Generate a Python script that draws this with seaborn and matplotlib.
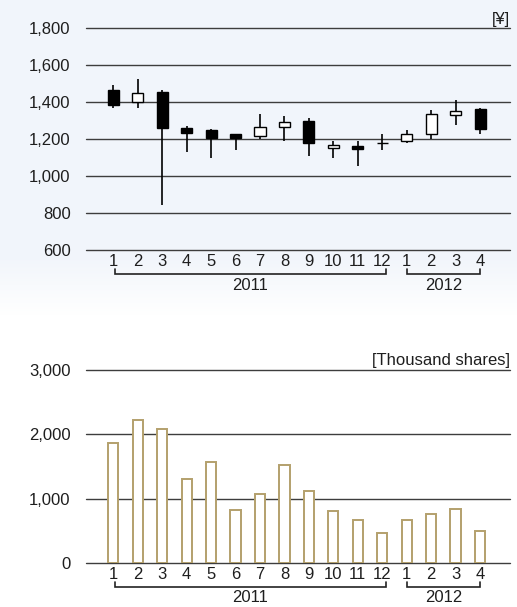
import numpy as np
import pandas as pd
import matplotlib
matplotlib.use("Agg")
import matplotlib.pyplot as plt
import matplotlib.transforms as mtransforms
import seaborn as sns

# Monthly share price (yen): open, high, low, close
periods = ["2011-01", "2011-02", "2011-03", "2011-04", "2011-05", "2011-06",
           "2011-07", "2011-08", "2011-09", "2011-10", "2011-11", "2011-12",
           "2012-01", "2012-02", "2012-03", "2012-04"]
month_labels = ["1", "2", "3", "4", "5", "6", "7", "8", "9", "10", "11", "12",
                "1", "2", "3", "4"]
price_open = [1465, 1402, 1452, 1262, 1248, 1225, 1218, 1266, 1298, 1150, 1160, 1179,
              1188, 1225, 1332, 1360]
price_high = [1490, 1522, 1465, 1272, 1252, 1228, 1333, 1325, 1315, 1190, 1188, 1229,
              1247, 1355, 1413, 1370]
price_low = [1370, 1366, 843, 1131, 1100, 1140, 1200, 1188, 1110, 1100, 1052, 1139,
             1178, 1200, 1276, 1225]
price_close = [1382, 1447, 1262, 1235, 1208, 1208, 1267, 1294, 1178, 1168, 1145, 1181,
               1225, 1333, 1353, 1253]

# Monthly trading volume (thousand shares)
volume = [1871, 2224, 2084, 1306, 1571, 829, 1068, 1519, 1124, 809, 674, 461,
          663, 762, 835, 497]

# Year groupings under the month axis: (label, first index, last index)
year_groups = [("2011", 0, 11), ("2012", 12, 15)]

price_ticks = [600, 800, 1000, 1200, 1400, 1600, 1800]
volume_ticks = [0, 1000, 2000, 3000]

sns.set_theme(style="white")
plt.rcParams["font.family"] = ["Liberation Sans", "DejaVu Sans"]

W, H = 517, 607
fig = plt.figure(figsize=(W / 100, H / 100), dpi=100)
fig.patch.set_facecolor("white")

# soft bluish backdrop behind the price panel, fading out toward the volume panel
bg = fig.add_axes([0, 0, 1, 1], zorder=-10)
rows = np.arange(H)
top_col = np.array([241, 245, 251]) / 255.0
fade = np.clip((rows - 255) / 60.0, 0, 1)[:, None]
grad = top_col * (1 - fade) + np.ones(3) * fade
img = np.repeat(grad[:, None, :], W, axis=1)
bg.imshow(img, aspect="auto", extent=(0, W, H, 0))
bg.set_xlim(0, W)
bg.set_ylim(H, 0)
bg.axis("off")

x_left_px, x_right_px = 86, 510
pos0_px, step_px = 113.3, 24.45
xlim = (-(pos0_px - x_left_px) / step_px, 15 + (x_right_px - (pos0_px + 15 * step_px)) / step_px)


def make_axes(top_px, bottom_px):
    return fig.add_axes([x_left_px / W, 1 - bottom_px / H,
                         (x_right_px - x_left_px) / W, (bottom_px - top_px) / H])


grid_col = "#3d3d3d"
text_col = "#1e1e1e"
fs = 12


def style_axes(ax, ticks, fmt, height_px):
    ax.set_facecolor("none")
    for s in ax.spines.values():
        s.set_visible(False)
    ax.set_yticks(ticks)
    ax.set_yticklabels([fmt(t) for t in ticks], fontsize=fs, color=text_col)
    ax.tick_params(axis="y", length=0, pad=11)
    ax.tick_params(axis="x", length=0, pad=3.0)
    ax.set_xticks(range(len(month_labels)))
    ax.set_xticklabels(month_labels, fontsize=fs, color=text_col)
    for t in ticks:
        ax.axhline(t, color=grid_col, lw=1.0, zorder=0.5, clip_on=False)
    ax.set_xlim(*xlim)
    ax.set_xlabel("")
    ax.set_ylabel("")
    # year brackets beneath month labels
    trans = mtransforms.blended_transform_factory(ax.transData, ax.transAxes)
    y_line = -24 / height_px
    y_tick = -19 / height_px
    y_text = -35 / height_px
    for label, i0, i1 in year_groups:
        xa = i0 + (0.06 if i0 == 0 else 0.0)
        xb = i1 + (0.15 if i1 == 11 else 0.0)
        ax.plot([xa, xa, xb, xb], [y_tick, y_line, y_line, y_tick], color="#222222",
                lw=1.2, transform=trans, clip_on=False, solid_joinstyle="miter")
        ax.text((xa + xb) / 2, y_text, label, transform=trans, ha="center", va="center",
                fontsize=fs, color=text_col)


# ---- price candlesticks ----
ax1 = make_axes(28, 250)
x = np.arange(len(periods))
po, pc = np.array(price_open), np.array(price_close)
rising = pc >= po
ax1.vlines(x, price_low, price_high, color="black", lw=1.2, zorder=2)
body_bottom = np.minimum(po, pc)
body_height = np.maximum(np.abs(pc - po), 2)
ax1.bar(x, body_height, bottom=body_bottom, width=0.45,
        color=np.where(rising, "white", "black"), edgecolor="black", linewidth=1.0, zorder=3)
ax1.set_ylim(600, 1800)
style_axes(ax1, price_ticks, lambda v: f"{v:,}", 222)
ax1.text(1.0, 1.0 + 9 / 222, "[¥]", transform=ax1.transAxes, ha="right", va="center",
         fontsize=fs, color=text_col)

# ---- trading volume ----
ax2 = make_axes(370, 563)
vol_df = pd.DataFrame({"period": periods, "volume": volume})
sns.barplot(data=vol_df, x="period", y="volume", order=periods, ax=ax2, width=0.42,
            color="white", edgecolor="#b3a06c", linewidth=1.4, saturation=1, zorder=3)
ax2.set_ylim(0, 3000)
style_axes(ax2, volume_ticks, lambda v: f"{v:,}", 193)
ax2.text(1.0, 1.0 + 10 / 193, "[Thousand shares]", transform=ax2.transAxes, ha="right",
         va="center", fontsize=fs, color=text_col)

fig.savefig("out.png", dpi=100)
